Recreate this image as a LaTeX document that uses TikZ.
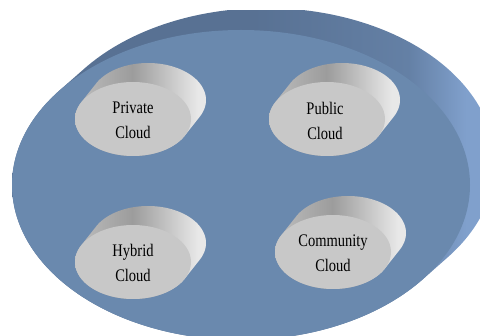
\documentclass[tikz,border=0pt]{standalone}
\usepackage{fontspec}
\setmainfont{Liberation Serif}
\definecolor{diskface}{RGB}{106,137,174}
\definecolor{diskdark}{RGB}{88,113,147}
\definecolor{diskmid}{RGB}{100,128,165}
\definecolor{disklight}{RGB}{128,160,204}
\definecolor{puckface}{RGB}{200,200,200}
\definecolor{puckleft}{RGB}{190,190,190}
\definecolor{puckmid}{RGB}{156,156,156}
\definecolor{puckright}{RGB}{232,232,232}
\pgfdeclarehorizontalshading{diskside}{100bp}{color(0bp)=(diskdark); color(25bp)=(diskdark); color(50bp)=(diskdark); color(66bp)=(diskmid); color(72bp)=(disklight); color(100bp)=(disklight)}
\pgfdeclarehorizontalshading{puckside}{100bp}{color(0bp)=(puckleft); color(25bp)=(puckleft); color(47bp)=(puckmid); color(72bp)=(puckright); color(100bp)=(puckright)}
\tikzset{
  cloudlabel/.style={align=center, yscale=1.22, font=\fontsize{14.5}{20.5}\selectfont, inner sep=0pt},
}
\begin{document}
\begin{tikzpicture}[x=1pt,y=-1pt]
\useasboundingbox (0,0) rectangle (480,336);
% the platform: extruded side, then its top face
\begin{scope}
  \clip (0,11) rectangle (480,336);
  \shade[shading=diskside]
    plot[domain=217.6:397.6,samples=120] ({266+229*cos(\x)},{163+155*sin(\x)})
    -- plot[domain=37.6:217.6,samples=120] ({241+229*cos(\x)},{185+155*sin(\x)}) -- cycle;
  \fill[diskface] (241,185) ellipse [x radius=229pt, y radius=155pt];
\end{scope}
% the four pucks
\foreach \cx/\cy in {133/119, 327/119, 133/262, 333/252}{
  \shade[shading=puckside]
    plot[domain=207.5:387.5,samples=80] ({\cx+15+58*cos(\x)},{\cy-19+37*sin(\x)})
    -- plot[domain=27.5:207.5,samples=80] ({\cx+58*cos(\x)},{\cy+37*sin(\x)}) -- cycle;
  \fill[puckface] (\cx,\cy) ellipse [x radius=58pt, y radius=37pt];
}
\node[cloudlabel] (private) at (133,120.5) {Private\\Cloud};
\node[cloudlabel] (public) at (325,120.5) {Public\\Cloud};
\node[cloudlabel] (hybrid) at (133,262.5) {Hybrid\\Cloud};
\node[cloudlabel] (community) at (333,253.5) {Community\\Cloud};
\end{tikzpicture}
\end{document}
